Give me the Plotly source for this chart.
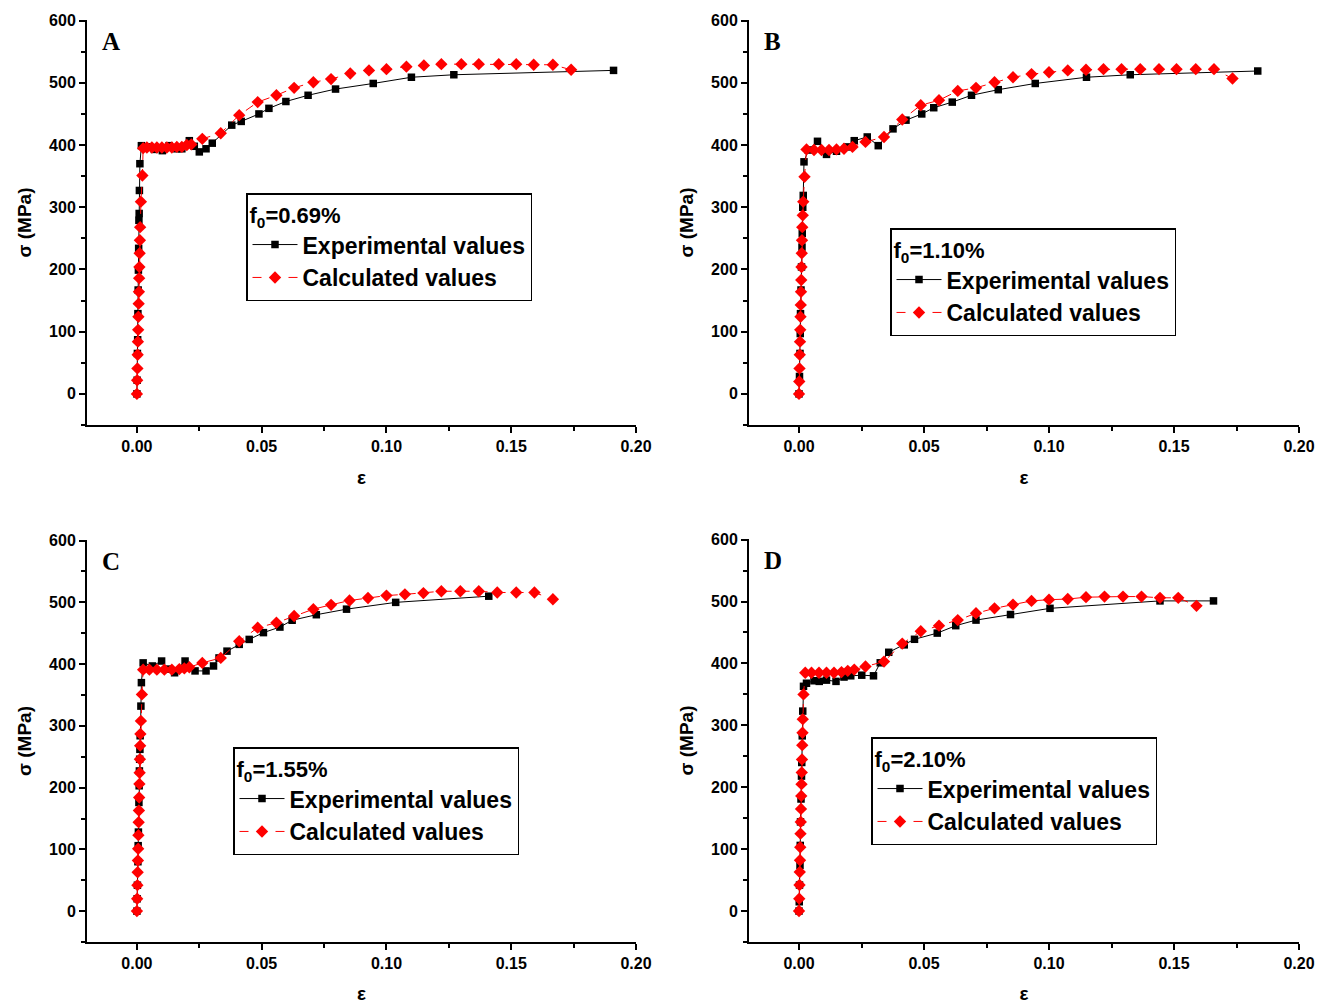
import plotly.graph_objects as go

# ---------------- data (strain ε, stress σ in MPa) ----------------
labels = ["A", "B", "C", "D"]
f0_labels = ["f<sub>0</sub>=0.69%", "f<sub>0</sub>=1.10%", "f<sub>0</sub>=1.55%", "f<sub>0</sub>=2.10%"]

# Panel A
expA_x = [0.0, 0.0001, 0.0002, 0.0003, 0.0004, 0.0005, 0.0006, 0.0007, 0.0008, 0.0009, 0.0010, 0.0012,
          0.0018, 0.004, 0.007, 0.0102, 0.0129, 0.016, 0.018, 0.021, 0.023, 0.025, 0.0277, 0.0302,
          0.038, 0.0418, 0.0489, 0.0529, 0.0597, 0.0686, 0.0796, 0.0947, 0.110, 0.127, 0.191]
expA_y = [0, 22, 65, 87, 129, 167, 199, 234, 279, 290, 327, 370,
          399, 397, 393, 391, 399, 394, 394, 407, 398, 389, 394, 403,
          432, 438, 450, 459, 470, 480, 490, 499, 509, 513, 520]
calA_x = [0.0, 0.0001, 0.0002, 0.0003, 0.0004, 0.0005, 0.0006, 0.0007, 0.0008, 0.0009, 0.0010, 0.0011,
          0.0012, 0.0013, 0.0016, 0.0022,
          0.0025, 0.004, 0.006, 0.008, 0.010, 0.012, 0.014, 0.016, 0.018, 0.020, 0.0218, 0.0262,
          0.0336, 0.041, 0.0484, 0.0559, 0.063, 0.0707, 0.0778, 0.0855, 0.093, 0.100, 0.108,
          0.115, 0.122, 0.130, 0.137, 0.145, 0.152, 0.159, 0.1667, 0.174]
calA_y = [0, 22, 41, 63, 84, 103, 124, 145, 164, 186, 204, 226,
          247, 268, 309, 351,
          395, 396, 396, 396, 396, 396, 396, 397, 397, 400, 401, 410,
          419, 448, 469, 480, 492, 501, 506, 515, 520, 522, 526,
          528, 530, 530, 530, 530, 530, 529, 529, 521]

# Panel B
expB_x = [0.0, 0.0002, 0.0004, 0.0005, 0.0006, 0.0008, 0.0010, 0.0012, 0.0013, 0.0015, 0.0017, 0.0020,
          0.0037, 0.0074, 0.011, 0.015, 0.0192, 0.0221, 0.0273, 0.0317, 0.0376, 0.0428, 0.0491,
          0.0539, 0.0613, 0.069, 0.0797, 0.0945, 0.115, 0.1325, 0.1835]
expB_y = [0, 28, 65, 97, 129, 167, 204, 236, 258, 300, 319, 373,
          392, 406, 385, 390, 397, 407, 413, 399, 426, 440, 450,
          460, 469, 480, 489, 499, 509, 513, 519]
calB_x = [0.0, 0.0001, 0.0002, 0.0003, 0.0004, 0.0005, 0.0006, 0.0007, 0.0008, 0.0009, 0.0010, 0.0011,
          0.0012, 0.0013, 0.0015, 0.0017, 0.0022,
          0.003, 0.006, 0.009, 0.012, 0.015, 0.018, 0.0214, 0.0266, 0.034, 0.0413, 0.0487, 0.056,
          0.0635, 0.0708, 0.0782, 0.0856, 0.093, 0.100, 0.1075, 0.1148, 0.1218, 0.129, 0.1365,
          0.144, 0.151, 0.1587, 0.166, 0.1734]
calB_y = [0, 20, 41, 63, 84, 103, 124, 143, 164, 183, 204, 226,
          247, 268, 287, 309, 349,
          393, 392, 392, 392, 393, 394, 397, 405, 413, 441, 464, 472,
          487, 492, 501, 509, 514, 517, 520, 521, 522, 522, 522,
          522, 522, 522, 522, 507]

# Panel C
expC_x = [0.0, 0.0001, 0.0002, 0.0004, 0.0005, 0.0006, 0.0008, 0.0009, 0.0010, 0.0011, 0.0012, 0.0013,
          0.0016, 0.0018,
          0.0025, 0.0062, 0.0099, 0.0125, 0.0151, 0.0193, 0.0233, 0.0277, 0.0307, 0.0329, 0.0361,
          0.041, 0.045, 0.0507, 0.0573, 0.0622, 0.0719, 0.084, 0.1037, 0.141]
expC_y = [0, 20, 42, 80, 106, 128, 176, 203, 227, 246, 262, 284,
          332, 370,
          402, 397, 405, 392, 386, 405, 389, 389, 397, 410, 421,
          432, 440, 451, 460, 471, 480, 489, 500, 510]
calC_x = [0.0, 0.0001, 0.0002, 0.0003, 0.0004, 0.0005, 0.0006, 0.0007, 0.0008, 0.0009, 0.0010, 0.0011,
          0.0012, 0.0013, 0.0014, 0.0016, 0.0020,
          0.0025, 0.005, 0.008, 0.011, 0.014, 0.017, 0.019, 0.021, 0.0262, 0.0336, 0.041, 0.0484,
          0.0559, 0.063, 0.0707, 0.0778, 0.0852, 0.0926, 0.100, 0.1074, 0.1148, 0.122, 0.1296,
          0.137, 0.1444, 0.152, 0.1593, 0.1667]
calC_y = [0, 20, 42, 63, 82, 101, 123, 144, 163, 184, 206, 224,
          246, 268, 287, 308, 351,
          391, 391, 391, 391, 391, 392, 393, 395, 402, 410, 437, 459,
          467, 478, 489, 496, 503, 507, 511, 513, 515, 518, 518,
          518, 516, 516, 516, 505]

# Panel D
expD_x = [0.0, 0.0001, 0.0002, 0.0004, 0.0005, 0.0006, 0.0008, 0.0010, 0.0011, 0.0013, 0.0015, 0.0018,
          0.003, 0.006, 0.0081, 0.011, 0.0148, 0.018, 0.0207, 0.0251, 0.0298, 0.0325, 0.0359,
          0.0421, 0.0462, 0.0553, 0.0627, 0.0708, 0.0846, 0.1004, 0.1444, 0.1658]
expD_y = [0, 15, 42, 74, 106, 144, 181, 218, 240, 283, 323, 363,
          368, 372, 371, 373, 371, 378, 380, 381, 380, 401, 418,
          430, 439, 449, 461, 470, 479, 489, 501, 501]
calD_x = [0.0, 0.0001, 0.0002, 0.0003, 0.0004, 0.0005, 0.0006, 0.0007, 0.0008, 0.0009, 0.0010, 0.0011,
          0.0012, 0.0013, 0.0014, 0.0015, 0.0018,
          0.0025, 0.005, 0.008, 0.011, 0.014, 0.017, 0.0195, 0.0221, 0.0266, 0.034, 0.0413, 0.0487,
          0.056, 0.0635, 0.0708, 0.0782, 0.0856, 0.093, 0.100, 0.1075, 0.1148, 0.1222, 0.1296,
          0.137, 0.1444, 0.1517, 0.159]
calD_y = [0, 20, 42, 63, 82, 103, 125, 144, 165, 186, 205, 224,
          245, 268, 288, 310, 350,
          385, 385, 385, 385, 385, 386, 388, 390, 395, 403, 432, 452,
          461, 470, 481, 489, 495, 501, 503, 504, 507, 508, 508,
          508, 506, 506, 493]

exp_x = [expA_x, expB_x, expC_x, expD_x]
exp_y = [expA_y, expB_y, expC_y, expD_y]
cal_x = [calA_x, calB_x, calC_x, calD_x]
cal_y = [calA_y, calB_y, calC_y, calD_y]

x_ticks = [0.00, 0.05, 0.10, 0.15, 0.20]
y_ticks = [0, 100, 200, 300, 400, 500, 600]

# ---------------- layout geometry ----------------
OFF = 8                      # default page body margin
W, H = 1329 - OFF, 1004 - OFF
FONT = "Liberation Sans, Arial, sans-serif"

# pixel boxes in page coordinates (left, right, top, bottom) of each panel's plot area
boxes = [(87, 636, 20, 425), (749, 1299, 20, 425), (87, 636, 540, 942), (749, 1299, 539, 942)]
legend_pos = [(246, 193), (890, 228), (233, 747), (871, 737)]

fig = go.Figure()
layout = dict(
    width=W, height=H,
    margin=dict(l=0, r=0, t=0, b=0, autoexpand=False),
    paper_bgcolor="white", plot_bgcolor="white",
    showlegend=True,
    annotations=[],
)


def px(v):
    return (v - OFF) / W


def py(v):
    return 1 - (v - OFF) / H


for i in range(4):
    n = "" if i == 0 else str(i + 1)
    xa, ya = "x" + n, "y" + n
    lg = "legend" + n
    fig.add_trace(go.Scatter(
        x=exp_x[i], y=exp_y[i], mode="lines+markers", name="Experimental values",
        line=dict(color="black", width=1),
        marker=dict(symbol="square", size=7.5, color="black"),
        xaxis=xa, yaxis=ya, legend=lg))
    fig.add_trace(go.Scatter(
        x=cal_x[i], y=cal_y[i], mode="lines+markers", name="Calculated values",
        line=dict(color="red", width=1, dash="dash"),
        marker=dict(symbol="diamond", size=9.5, color="red"),
        xaxis=xa, yaxis=ya, legend=lg))

    l, r, t, b = boxes[i]
    axis_common = dict(
        showline=True, linecolor="black", linewidth=2, mirror=False,
        ticks="outside", ticklen=6, tickwidth=2, tickcolor="black",
        showgrid=False, zeroline=False, automargin=False,
        tickfont=dict(family=FONT, size=16, color="black", weight="bold"),
    )
    layout["xaxis" + n] = dict(
        axis_common,
        domain=[px(l), px(r)], anchor=ya,
        range=[-0.02, 0.20], tickvals=x_ticks, tickformat=".2f",
        minor=dict(ticks="outside", ticklen=4, tickwidth=2, tickcolor="black", dtick=0.025, tick0=0),
        title=dict(text="ε", font=dict(family=FONT, size=19, color="black", weight="bold"), standoff=16),
    )
    layout["yaxis" + n] = dict(
        axis_common,
        domain=[py(b), py(t)], anchor=xa,
        range=[-50, 601], tickvals=y_ticks,
        minor=dict(ticks="outside", ticklen=4, tickwidth=2, tickcolor="black", dtick=50, tick0=0),
        title=dict(text="σ (MPa)", font=dict(family=FONT, size=19, color="black", weight="bold"), standoff=12),
    )
    lx, ly = legend_pos[i]
    layout[lg] = dict(
        x=px(lx), y=py(ly), xanchor="left", yanchor="top",
        xref="paper", yref="paper",
        bgcolor="white", bordercolor="black", borderwidth=1.5,
        font=dict(family=FONT, size=23, color="black", weight="bold"),
        title=dict(text=f0_labels[i], font=dict(family=FONT, size=22, color="black", weight="bold")),
        itemwidth=45, tracegroupgap=0,
    )
    layout["annotations"].append(dict(
        text=labels[i], x=px(l + 13), y=py(t + 6), xref="paper", yref="paper",
        xanchor="left", yanchor="top", showarrow=False,
        font=dict(family="Liberation Serif, Times New Roman, serif", size=25, color="black", weight="bold"),
    ))

fig.update_layout(**layout)
fig.write_html("out.html")
